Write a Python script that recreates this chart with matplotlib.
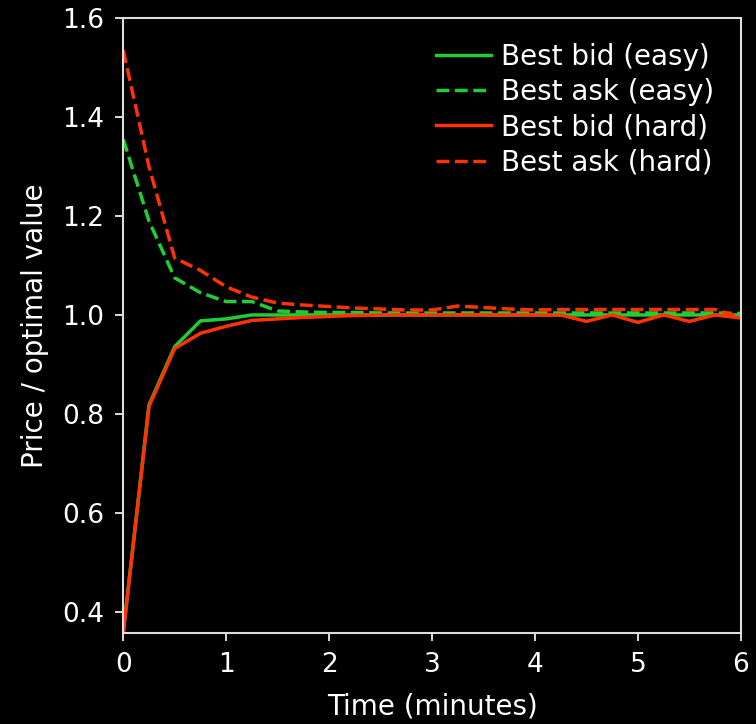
import matplotlib
matplotlib.use("Agg")
import matplotlib.pyplot as plt

# time axis (minutes)
times = [0.0, 0.25, 0.5, 0.75, 1.0, 1.25, 1.5, 1.75, 2.0, 2.25, 2.5, 2.75, 3.0,
         3.25, 3.5, 3.75, 4.0, 4.25, 4.5, 4.75, 5.0, 5.25, 5.5, 5.75, 6.0]

bid_easy = [0.358, 0.818, 0.936, 0.988, 0.992, 1.000, 1.000, 1.000, 1.000, 1.000,
            1.000, 1.000, 1.000, 1.000, 1.000, 1.000, 1.000, 1.000, 1.000, 1.000,
            1.000, 1.000, 1.000, 1.000, 1.000]
ask_easy = [1.355, 1.190, 1.075, 1.045, 1.027, 1.027, 1.008, 1.006, 1.005, 1.005,
            1.004, 1.004, 1.004, 1.004, 1.004, 1.004, 1.004, 1.004, 1.004, 1.004,
            1.004, 1.004, 1.004, 1.004, 1.003]
bid_hard = [0.357, 0.815, 0.932, 0.963, 0.977, 0.989, 0.992, 0.995, 0.997, 0.999,
            1.000, 1.000, 1.000, 1.000, 1.000, 1.000, 1.000, 1.000, 0.987, 1.000,
            0.985, 1.000, 0.987, 1.000, 0.994]
ask_hard = [1.535, 1.300, 1.115, 1.090, 1.057, 1.036, 1.024, 1.020, 1.017, 1.014,
            1.012, 1.010, 1.010, 1.018, 1.015, 1.012, 1.010, 1.011, 1.011, 1.011,
            1.011, 1.011, 1.011, 1.011, 0.995]

GREEN = '#22cc33'
RED = '#ff3300'

plt.style.use('dark_background')
plt.rcParams['font.size'] = 20

fig = plt.figure(figsize=(7.56, 7.24), dpi=100)
ax = fig.add_axes([0.163, 0.126, 0.817, 0.849])

ax.plot(times, bid_easy, color=GREEN, lw=2.5, label='Best bid (easy)')
ax.plot(times, ask_easy, color=GREEN, lw=2.5, ls='--', label='Best ask (easy)')
ax.plot(times, bid_hard, color=RED, lw=2.5, label='Best bid (hard)')
ax.plot(times, ask_hard, color=RED, lw=2.5, ls='--', label='Best ask (hard)')

ax.set_xlim(0, 6)
ax.set_ylim(0.3576, 1.6)
ax.set_xlabel('Time (minutes)', labelpad=10)
ax.set_ylabel('Price / optimal value', labelpad=9)
ax.tick_params(length=6, width=1.2, pad=8, labelsize=19)
for s in ax.spines.values():
    s.set_color('#dddddd')
    s.set_linewidth(1.5)

ax.legend(loc='upper right', bbox_to_anchor=(0.957, 0.96), frameon=False,
          handlelength=2.0, handletextpad=0.36, labelspacing=0.26,
          borderaxespad=0, borderpad=0)

fig.savefig('out.png', dpi=100, facecolor='black')
